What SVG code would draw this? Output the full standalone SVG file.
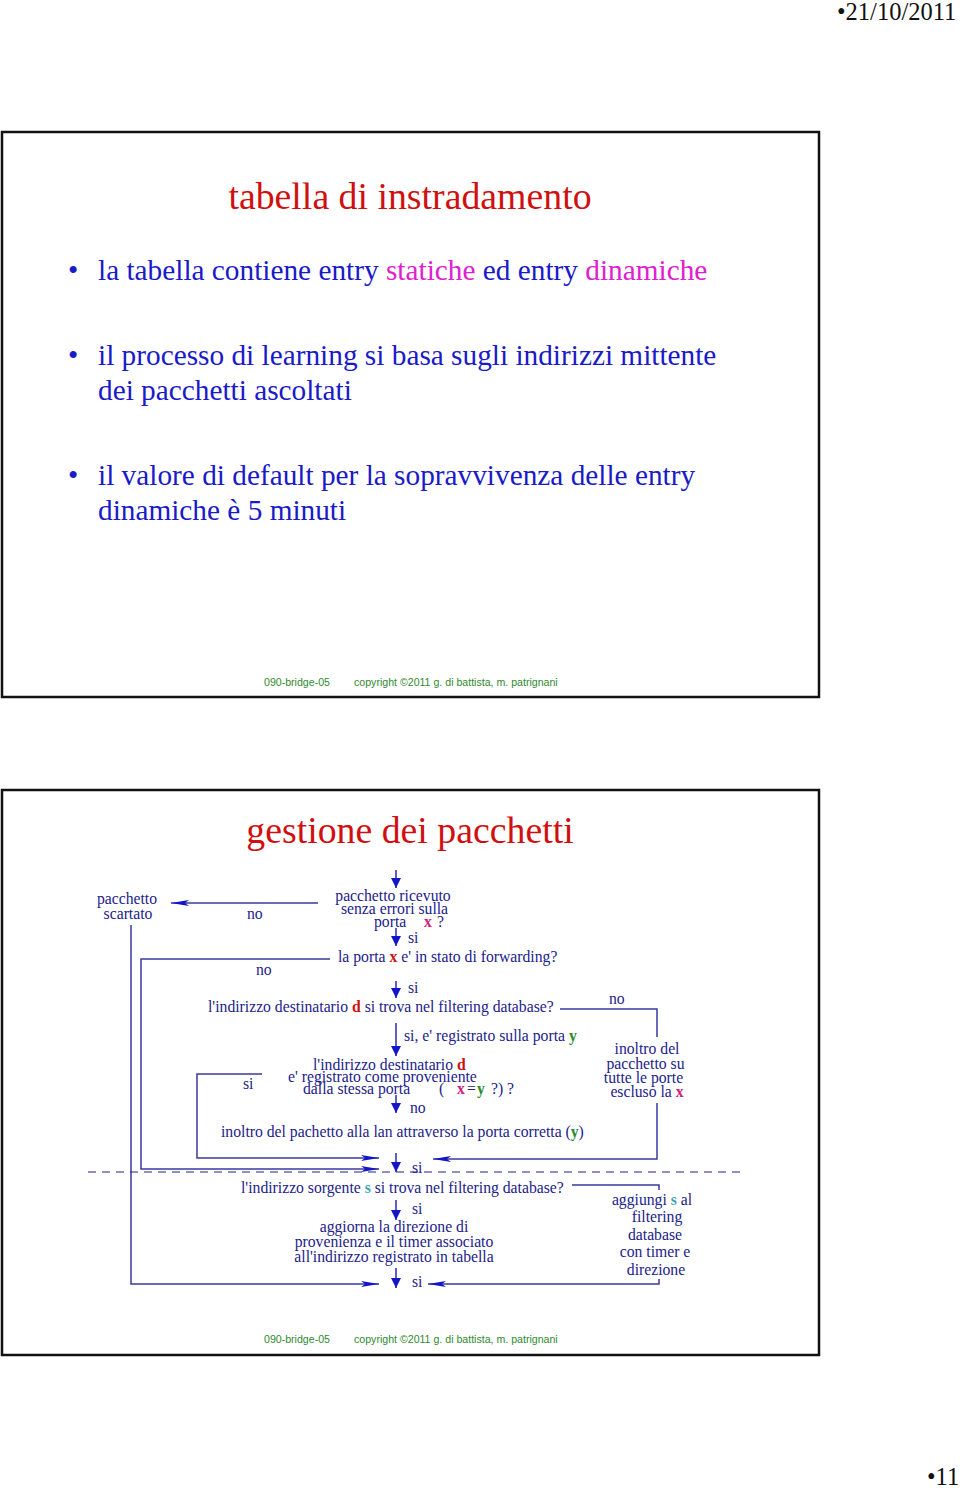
<svg xmlns="http://www.w3.org/2000/svg" width="960" height="1488" viewBox="0 0 960 1488">
<style>
.slide{fill:#fff;stroke:#111;stroke-width:2.5}
.hdr{font-family:"Liberation Serif",serif;font-size:24.5px;fill:#111}
.title{font-family:"Liberation Serif",serif;font-size:37.8px;fill:#d01010;text-anchor:middle}
.bul{font-family:"Liberation Serif",serif;font-size:29.3px;fill:#1a1ac8}
.mag{fill:#e020d0}
.foot{font-family:"Liberation Sans",sans-serif;font-size:10.6px;fill:#2f8a2f}
.t{font-family:"Liberation Serif",serif;font-size:15.7px;fill:#22228a}
.c{text-anchor:middle}
.red{fill:#cc1111;font-weight:bold}
.pink{fill:#d0207a;font-weight:bold}
.grn{fill:#2a8a2a;font-weight:bold}
.teal{fill:#3ea0b8;font-weight:bold}
.ln{fill:none;stroke:#3a3aa0;stroke-width:1.5}
.av{fill:none;stroke:#2a2ab0;stroke-width:1.5;marker-end:url(#ahV)}
.ah{fill:none;stroke:#3a3aa0;stroke-width:1.5;marker-end:url(#ahH)}
.dash{fill:none;stroke:#22228a;stroke-width:1;stroke-dasharray:8 6}
</style>
<defs>
<marker id="ahV" viewBox="0 0 10 10" refX="10" refY="5" markerWidth="11" markerHeight="10" markerUnits="userSpaceOnUse" orient="auto">
<path d="M0,0 L10,5 L0,10 z" fill="#1515c8"/>
</marker>
<marker id="ahH" viewBox="0 0 18 6" refX="18" refY="3" markerWidth="18" markerHeight="6" markerUnits="userSpaceOnUse" orient="auto">
<path d="M0,0 L18,3 L0,6 L4,3 z" fill="#1515c8"/>
</marker>
</defs>
<rect width="960" height="1488" fill="#fff"/>
<text class="hdr" x="837" y="20">•21/10/2011</text>
<text class="hdr" x="927" y="1485">•11</text>

<g id="slide1">
<rect class="slide" x="2" y="132" width="817" height="565"/>
<text class="title" x="410" y="209">tabella di instradamento</text>
<text class="bul" x="68" y="280">•</text>
<text class="bul" x="98" y="280">la tabella contiene entry <tspan class="mag">statiche</tspan> ed entry <tspan class="mag">dinamiche</tspan></text>
<text class="bul" x="68" y="365">•</text>
<text class="bul" x="98" y="365">il processo di learning si basa sugli indirizzi mittente</text>
<text class="bul" x="98" y="400">dei pacchetti ascoltati</text>
<text class="bul" x="68" y="485">•</text>
<text class="bul" x="98" y="485">il valore di default per la sopravvivenza delle entry</text>
<text class="bul" x="98" y="520">dinamiche è 5 minuti</text>
<text class="foot" x="264" y="686">090-bridge-05</text>
<text class="foot" x="354" y="686">copyright ©2011 g. di battista, m. patrignani</text>
</g>

<g id="slide2">
<rect class="slide" x="2" y="790" width="817" height="565"/>
<text class="title" x="410" y="843">gestione dei pacchetti</text>
<text class="foot" x="264" y="1343">090-bridge-05</text>
<text class="foot" x="354" y="1343">copyright ©2011 g. di battista, m. patrignani</text>
</g>

<g id="connectors">
<path class="av" d="M396,870 V888"/>
<path class="av" d="M396,928 V946"/>
<path class="av" d="M396,981 V998"/>
<path class="av" d="M396,1023 V1056"/>
<path class="av" d="M396,1095 V1113"/>
<path class="av" d="M396,1153 V1172"/>
<path class="av" d="M396,1200 V1220"/>
<path class="av" d="M396,1268 V1288"/>
<path class="ah" d="M318,903 H171"/>
<path class="ah" d="M131,925 V1284 H379"/>
<path class="ah" d="M330,959 H141 V1169 H379"/>
<path class="ln" d="M560,1009 H657 V1037"/>
<path class="ah" d="M657,1103 V1159 H433"/>
<path class="ah" d="M262,1074 H197 V1158 H379"/>
<path class="ln" d="M572,1185 H659 V1190"/>
<path class="ah" d="M659,1279 V1284 H428"/>
<path class="dash" d="M88,1172 H740"/>
</g>

<g id="n-scartato">
<text class="t c" x="127" y="904">pacchetto</text>
<text class="t c" x="128" y="919">scartato</text>
</g>
<g id="n-ricevuto">
<text class="t c" x="393" y="901">pacchetto ricevuto</text>
<text class="t c" x="394.5" y="914">senza errori sulla</text>
<text class="t" x="374" y="927">porta</text>
<text class="t pink" x="424" y="927">x</text>
<text class="t" x="437" y="927">?</text>
</g>
<g id="n-forwarding">
<text class="t" x="338" y="962">la porta <tspan class="red">x</tspan> e' in stato di forwarding?</text>
</g>
<g id="n-dest">
<text class="t" x="208" y="1012">l'indirizzo destinatario <tspan class="red">d</tspan> si trova nel filtering database?</text>
</g>
<g id="n-stessa">
<text class="t" x="313" y="1070">l'indirizzo destinatario <tspan class="red">d</tspan></text>
<text class="t" x="288" y="1082">e' registrato come proveniente</text>
<text class="t" x="303" y="1094">dalla stessa porta</text>
<text class="t" x="439" y="1094">(</text>
<text class="t pink" x="457" y="1094">x</text>
<text class="t" x="467" y="1094">=</text>
<text class="t grn" x="477" y="1094">y</text>
<text class="t" x="491" y="1094">?)</text>
<text class="t" x="507" y="1094">?</text>
</g>
<g id="n-inoltro">
<text class="t" x="221" y="1137">inoltro del pachetto alla lan attraverso la porta corretta (<tspan class="grn">y</tspan>)</text>
</g>
<g id="n-flood">
<text class="t c" x="647" y="1054">inoltro del</text>
<text class="t c" x="645.5" y="1069">pacchetto su</text>
<text class="t c" x="643.5" y="1083">tutte le porte</text>
<text class="t c" x="647" y="1097">escluso la <tspan class="pink">x</tspan></text>
</g>
<g id="n-sorgente">
<text class="t" x="241" y="1193">l'indirizzo sorgente <tspan class="teal">s</tspan> si trova nel filtering database?</text>
</g>
<g id="n-aggiorna">
<text class="t c" x="394" y="1232">aggiorna la direzione di</text>
<text class="t c" x="394" y="1247">provenienza e il timer associato</text>
<text class="t c" x="394" y="1262">all'indirizzo registrato in tabella</text>
</g>
<g id="n-aggiungi">
<text class="t c" x="652" y="1205">aggiungi <tspan class="teal">s</tspan> al</text>
<text class="t c" x="657" y="1222">filtering</text>
<text class="t c" x="655" y="1240">database</text>
<text class="t c" x="655" y="1257">con timer e</text>
<text class="t c" x="656" y="1275">direzione</text>
</g>
<g id="labels">
<text class="t" x="247" y="919">no</text>
<text class="t" x="408" y="943">si</text>
<text class="t" x="256" y="975">no</text>
<text class="t" x="408" y="993">si</text>
<text class="t" x="609" y="1004">no</text>
<text class="t" x="404" y="1041">si, e' registrato sulla porta <tspan class="grn">y</tspan></text>
<text class="t" x="243" y="1089">si</text>
<text class="t" x="410" y="1113">no</text>
<text class="t" x="412" y="1173">si</text>
<text class="t" x="412" y="1214">si</text>
<text class="t" x="412" y="1287">si</text>
</g>
</svg>
